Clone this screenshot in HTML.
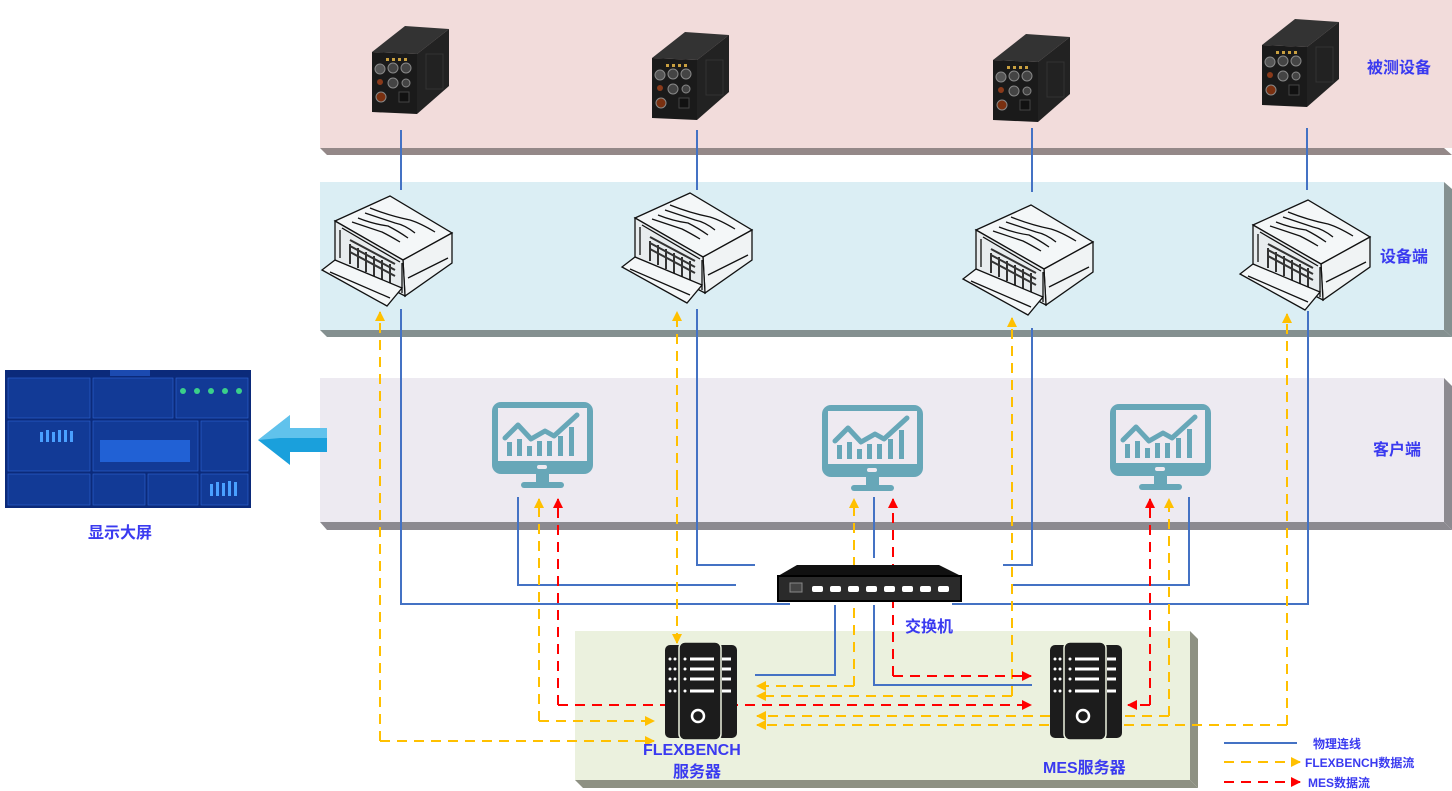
<!DOCTYPE html>
<html><head><meta charset="utf-8"><style>
body{margin:0;background:#fff;}
svg{display:block;}
text{font-family:"Liberation Sans","Noto Sans CJK SC",sans-serif;font-weight:bold;fill:#3a3af0;}
</style></head><body>
<svg width="1452" height="791" viewBox="0 0 1452 791" xmlns="http://www.w3.org/2000/svg">
<defs>
<marker id="ay" viewBox="0 0 10 10" refX="9" refY="5" markerWidth="5" markerHeight="5" orient="auto"><path d="M0,0L10,5L0,10z" fill="#ffc000"/></marker>
<marker id="ar" viewBox="0 0 10 10" refX="9" refY="5" markerWidth="5" markerHeight="5" orient="auto"><path d="M0,0L10,5L0,10z" fill="#ff0000"/></marker>
<g id="dev">
<polygon points="0,28 33,2 77,5 45,30" fill="#333"/>
<polygon points="45,30 77,5 77,62 45,90" fill="#222"/>
<polygon points="0,28 45,30 45,90 0,88" fill="#1a1a1a"/>
<rect x="54" y="30" width="17" height="35" fill="none" stroke="#333"/>
<rect x="14" y="34" width="3" height="3" fill="#c9a040"/><rect x="20" y="34" width="3" height="3" fill="#c9a040"/><rect x="26" y="34" width="3" height="3" fill="#c9a040"/><rect x="32" y="34" width="3" height="3" fill="#c9a040"/>
<circle cx="8" cy="45" r="5" fill="#555" stroke="#888"/><circle cx="21" cy="44" r="5" fill="#444" stroke="#888"/><circle cx="34" cy="44" r="5" fill="#444" stroke="#888"/>
<circle cx="8" cy="58" r="3" fill="#8a3a1a"/><circle cx="21" cy="59" r="5" fill="#444" stroke="#888"/><circle cx="34" cy="59" r="4" fill="#444" stroke="#888"/>
<circle cx="9" cy="73" r="5" fill="#7a3010" stroke="#888"/><rect x="27" y="68" width="10" height="10" fill="#111" stroke="#444"/>
</g>
<g id="chs" fill="none" stroke="#111" stroke-width="1.3">
<polygon points="15,33 70,8 132,45 83,72" fill="#f4f7f8"/>
<polygon points="83,72 132,45 132,75 85,108" fill="#f0f3f4"/>
<polygon points="15,33 83,72 85,108 15,72" fill="#e8ecee"/>
<path d="M22,40 L80,74 M20,42 L20,70 M82,75 L82,105" />
<path d="M30,52 l45,24 M30,58 l45,24 M30,64 l45,24 M30,56 l0,20 M38,60 l0,20 M46,64 l0,20 M54,68 l0,20 M62,72 l0,20 M70,76 l0,20" stroke="#333" stroke-width="2"/>
<path d="M45,25 q15,5 30,10 q10,2 20,10 M50,20 q20,8 40,12 q10,3 25,12 M38,30 q15,6 30,8 q10,5 20,12 M32,34 q15,5 30,10 q8,4 18,10" />
<polygon points="2,82 15,72 82,100 67,118" fill="#f4f7f8"/>
<path d="M10,84 L70,110 M88,90 L128,70"/>
</g>
<g id="mon" fill="#67a7b8">
<rect x="0" y="0" width="101" height="72" rx="9"/>
<rect x="6" y="6" width="89" height="53" fill="#eeeaf1"/>
<rect x="44" y="72" width="13" height="9"/>
<rect x="29" y="80" width="43" height="6" rx="3"/>
<rect x="45" y="63" width="10" height="4" rx="2" fill="#eeeaf1"/>
<g fill="#67a7b8"><rect x="15" y="40" width="5" height="14"/><rect x="25" y="37" width="5" height="17"/><rect x="35" y="44" width="5" height="10"/><rect x="45" y="39" width="5" height="15"/><rect x="55" y="39" width="5" height="15"/><rect x="66" y="34" width="5" height="20"/><rect x="77" y="25" width="5" height="29"/></g>
<polyline points="13,36 26,23 39,37 53,29 62,34 85,13" fill="none" stroke="#67a7b8" stroke-width="5" stroke-linecap="round" stroke-linejoin="round"/>
</g>
<g id="srv">
<rect x="25" y="10" width="20" height="93" rx="5" fill="#1c1c1c"/>
<rect x="77" y="10" width="20" height="93" rx="5" fill="#1c1c1c"/>
<rect x="39" y="7" width="42" height="98" rx="6" fill="#1c1c1c" stroke="#ebf1de" stroke-width="1.5"/>
<g fill="#fff"><circle cx="30" cy="24" r="1.5"/><circle cx="35" cy="24" r="1.5"/><circle cx="30" cy="34" r="1.5"/><circle cx="35" cy="34" r="1.5"/><circle cx="30" cy="44" r="1.5"/><circle cx="35" cy="44" r="1.5"/><circle cx="30" cy="56" r="1.5"/><circle cx="35" cy="56" r="1.5"/>
<circle cx="45" cy="24" r="1.5"/><circle cx="45" cy="34" r="1.5"/><circle cx="45" cy="44" r="1.5"/><circle cx="45" cy="56" r="1.5"/>
<rect x="50" y="22.5" width="24" height="3"/><rect x="50" y="32.5" width="24" height="3"/><rect x="50" y="42.5" width="24" height="3"/><rect x="50" y="54.5" width="24" height="3"/>
<rect x="82" y="22.5" width="9" height="3"/><rect x="82" y="32.5" width="9" height="3"/><rect x="82" y="42.5" width="9" height="3"/><rect x="82" y="54.5" width="9" height="3"/></g>
<circle cx="58" cy="81" r="6" fill="none" stroke="#fff" stroke-width="2.5"/>
</g>
</defs>

<!-- bands -->
<polygon points="320,148 1444,148 1452,155 327,155" fill="#948888"/>
<rect x="320" y="0" width="1132" height="148" fill="#f2dcdb"/>
<polygon points="320,330 1444,330 1452,337 327,337" fill="#849090"/>
<polygon points="1444,182 1452,189 1452,337 1444,330" fill="#849090"/>
<rect x="320" y="182" width="1124" height="148" fill="#dbeef4"/>
<polygon points="320,522 1444,522 1452,530 327,530" fill="#8c8a90"/>
<polygon points="1444,378 1452,386 1452,530 1444,522" fill="#8c8a90"/>
<rect x="320" y="378" width="1124" height="144" fill="#edeaf1"/>
<polygon points="575,780 1190,780 1198,788 583,788" fill="#8e9183"/>
<polygon points="1190,631 1198,639 1198,788 1190,780" fill="#8e9183"/>
<rect x="575" y="631" width="615" height="149" fill="#ebf1de"/>

<!-- blue physical lines -->
<g fill="none" stroke="#4472c4" stroke-width="2">
<path d="M401,130V190 M697,130V190 M1032,128V192 M1307,128V190"/>
<path d="M401,309V604H790 M697,309V565H755 M518,497V585H736 M1032,328V565H1003 M1189,497V585H1012 M1308,311V604H952 M874,497V558 M835,605V675H755 M874,605V685H1032"/>
<path d="M1224,743H1297"/>
</g>

<!-- yellow -->
<g fill="none" stroke="#ffc000" stroke-width="2" stroke-dasharray="10,7">
<path d="M380,741V312" marker-end="url(#ay)"/>
<path d="M380,741H654" marker-end="url(#ay)"/>
<path d="M677,480V312" marker-end="url(#ay)"/>
<path d="M677,480V643" marker-end="url(#ay)"/>
<path d="M539,721V499" marker-end="url(#ay)"/>
<path d="M539,721H654" marker-end="url(#ay)"/>
<path d="M854,686V499" marker-end="url(#ay)"/>
<path d="M854,686H757" marker-end="url(#ay)"/>
<path d="M1012,696V318" marker-end="url(#ay)"/>
<path d="M1012,696H757" marker-end="url(#ay)"/>
<path d="M1169,716V499" marker-end="url(#ay)"/>
<path d="M1169,716H757" marker-end="url(#ay)"/>
<path d="M1287,725V314" marker-end="url(#ay)"/>
<path d="M1287,725H757" marker-end="url(#ay)"/>
<path d="M1224,762H1300" marker-end="url(#ay)"/>
</g>
<!-- red -->
<g fill="none" stroke="#ff0000" stroke-width="2" stroke-dasharray="10,7">
<path d="M558,705V499" marker-end="url(#ar)"/>
<path d="M558,705H1031" marker-end="url(#ar)"/>
<path d="M893,676V499" marker-end="url(#ar)"/>
<path d="M893,676H1031" marker-end="url(#ar)"/>
<path d="M1150,705V499" marker-end="url(#ar)"/>
<path d="M1150,705H1128" marker-end="url(#ar)"/>
<path d="M1224,782H1300" marker-end="url(#ar)"/>
</g>

<!-- switch -->
<polygon points="797,565 939,565 961,576 778,576" fill="#111"/>
<rect x="778" y="576" width="183" height="25" fill="#2a2a2a" stroke="#000" stroke-width="2"/>
<rect x="790" y="583" width="12" height="9" fill="#444" stroke="#888"/>
<g fill="#fff"><rect x="812" y="586" width="11" height="6" rx="2"/><rect x="830" y="586" width="11" height="6" rx="2"/><rect x="848" y="586" width="11" height="6" rx="2"/><rect x="866" y="586" width="11" height="6" rx="2"/><rect x="884" y="586" width="11" height="6" rx="2"/><rect x="902" y="586" width="11" height="6" rx="2"/><rect x="920" y="586" width="11" height="6" rx="2"/><rect x="938" y="586" width="11" height="6" rx="2"/></g>

<!-- devices -->
<use href="#dev" x="372" y="24"/>
<use href="#dev" x="652" y="30"/>
<use href="#dev" x="993" y="32"/>
<use href="#dev" x="1262" y="17"/>
<use href="#chs" x="320" y="188"/>
<use href="#chs" x="620" y="185"/>
<use href="#chs" x="961" y="197"/>
<use href="#chs" x="1238" y="192"/>
<use href="#mon" x="492" y="402"/>
<use href="#mon" x="822" y="405"/>
<use href="#mon" x="1110" y="404"/>
<use href="#srv" x="640" y="635"/>
<use href="#srv" x="1025" y="635"/>

<!-- display screen -->
<rect x="5" y="370" width="246" height="138" fill="#0b2a7a"/>
<g fill="#123a96" stroke="#2a5fc8" stroke-width="0.7">
<rect x="8" y="378" width="82" height="40"/><rect x="93" y="378" width="80" height="40"/><rect x="176" y="378" width="72" height="40"/>
<rect x="8" y="421" width="82" height="50"/><rect x="93" y="421" width="105" height="50"/><rect x="201" y="421" width="47" height="50"/>
<rect x="8" y="474" width="82" height="31"/><rect x="93" y="474" width="52" height="31"/><rect x="148" y="474" width="50" height="31"/><rect x="201" y="474" width="47" height="31"/>
</g>
<rect x="100" y="440" width="90" height="22" fill="#2b7bff" opacity="0.6"/>
<g fill="#3ad08a"><circle cx="183" cy="391" r="3"/><circle cx="197" cy="391" r="3"/><circle cx="211" cy="391" r="3"/><circle cx="225" cy="391" r="3"/><circle cx="239" cy="391" r="3"/></g>
<g fill="#4aa0ff"><rect x="40" y="432" width="3" height="10"/><rect x="46" y="430" width="3" height="12"/><rect x="52" y="432" width="3" height="10"/><rect x="58" y="430" width="3" height="12"/><rect x="64" y="430" width="3" height="12"/><rect x="70" y="431" width="3" height="11"/><rect x="210" y="484" width="3" height="12"/><rect x="216" y="482" width="3" height="14"/><rect x="222" y="483" width="3" height="13"/><rect x="228" y="481" width="3" height="15"/><rect x="234" y="482" width="3" height="14"/></g>
<rect x="110" y="370" width="40" height="6" fill="#1b4ab0"/>
<!-- big arrow -->
<polygon points="258,440 290,415 290,428 327,428 327,452 290,452 290,465" fill="#1aa0dc"/>
<polygon points="258,440 290,415 290,428 327,428 327,438 280,438" fill="#7fd0f2" opacity="0.7"/>

<!-- labels -->
<text x="1367" y="73" font-size="16">被测设备</text>
<text x="1380" y="262" font-size="16">设备端</text>
<text x="1373" y="455" font-size="16">客户端</text>
<text x="88" y="538" font-size="16">显示大屏</text>
<text x="905" y="632" font-size="16">交换机</text>
<text x="643" y="755" font-size="16">FLEXBENCH</text>
<text x="673" y="777" font-size="16">服务器</text>
<text x="1043" y="773" font-size="16">MES服务器</text>
<text x="1313" y="748" font-size="12">物理连线</text>
<text x="1305" y="767" font-size="12">FLEXBENCH数据流</text>
<text x="1308" y="787" font-size="12">MES数据流</text>
</svg>
</body></html>
